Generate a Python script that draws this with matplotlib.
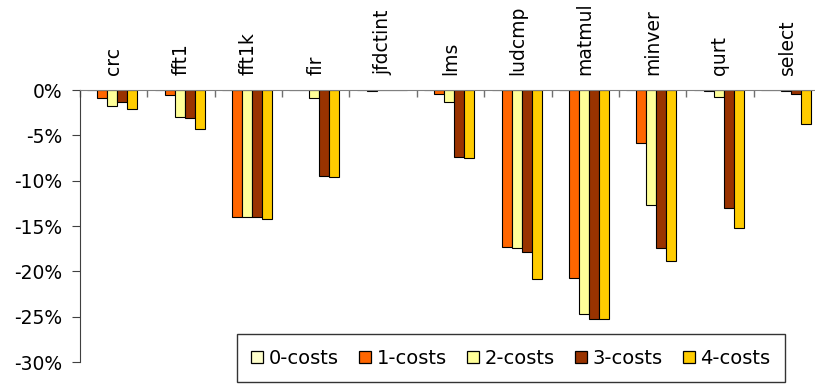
import numpy as np
import matplotlib
matplotlib.use("Agg")
import matplotlib.pyplot as plt
from matplotlib.lines import Line2D
from matplotlib.ticker import FixedLocator, NullFormatter

# benchmark names and relative change (%) per cost setting
benchmarks = ["crc", "fft1", "fft1k", "fir", "jfdctint", "lms",
              "ludcmp", "matmul", "minver", "qurt", "select"]
series_names = ["0-costs", "1-costs", "2-costs", "3-costs", "4-costs"]
costs_0 = [0, 0, 0, 0, 0, 0, 0, 0, 0, 0, 0]
costs_1 = [-0.9, -0.6, -14.0, 0, -0.15, -0.47, -17.3, -20.7, -5.9, -0.1, 0]
costs_2 = [-1.75, -2.95, -14.0, -0.9, 0, -1.35, -17.4, -24.7, -12.7, -0.73, -0.1]
costs_3 = [-1.35, -3.1, -14.0, -9.45, 0, -7.35, -17.85, -25.25, -17.45, -13.0, -0.4]
costs_4 = [-2.05, -4.3, -14.2, -9.6, 0, -7.5, -20.8, -25.25, -18.9, -15.2, -3.8]
y_ticks = [0, -5, -10, -15, -20, -25, -30]

colors = ["#FFFFCC", "#FF6600", "#FFFF99", "#993300", "#FFCC00"]
all_series = [costs_0, costs_1, costs_2, costs_3, costs_4]

plt.rcParams['font.family'] = ['DejaVu Sans']
fig = plt.figure(figsize=(8.15, 3.85), dpi=100)
ax = fig.add_axes([80 / 815, 1 - 362 / 385, 741 / 815, 272 / 385])

n = len(benchmarks)
x = np.arange(n) + 0.5
w = 10 / 67.4
for k, (vals, c, name) in enumerate(zip(all_series, colors, series_names)):
    ax.bar(x + (k - 2) * w - 0.02, vals, width=w, color=c, edgecolor="black",
           linewidth=0.8, label=name, zorder=2)

ax.set_xlim(0, n)
ax.set_ylim(-30, 0)

# category labels above the zero line, group dividers as ticks
ax.xaxis.tick_top()
ax.set_xticks(x)
ax.set_xticklabels(benchmarks, rotation=90, fontsize=13.5)
ax.tick_params(axis="x", which="major", length=0, pad=11)
ax.xaxis.set_minor_locator(FixedLocator(np.arange(n + 1)))
ax.xaxis.set_minor_formatter(NullFormatter())
ax.tick_params(axis="x", which="minor", direction="in", length=5,
               color="#707070", width=1)

ax.set_yticks(y_ticks)
ax.set_yticklabels([f"{v}%" for v in y_ticks], fontsize=13.5)
ax.tick_params(axis="y", direction="out", length=6, pad=7, color="#404040")

for s in ["right", "bottom"]:
    ax.spines[s].set_visible(False)
ax.spines["top"].set_color("#808080")
ax.spines["left"].set_color("#404040")

# square swatches with a thin black outline
handles = [Line2D([], [], linestyle="none", marker="s", markersize=8,
                  markerfacecolor=c, markeredgecolor="black",
                  markeredgewidth=0.9) for c in colors]
leg = fig.legend(handles, series_names, loc="center", mode="expand",
                 bbox_to_anchor=(237 / 815, 1 - 384 / 385, 548 / 815, 52 / 385),
                 ncol=5, fontsize=14, frameon=True, fancybox=False,
                 edgecolor="black", handlelength=0.6,
                 handletextpad=0.3, borderpad=0.75, borderaxespad=0)
leg.get_frame().set_linewidth(1.0)

fig.savefig("out.png", dpi=100)
